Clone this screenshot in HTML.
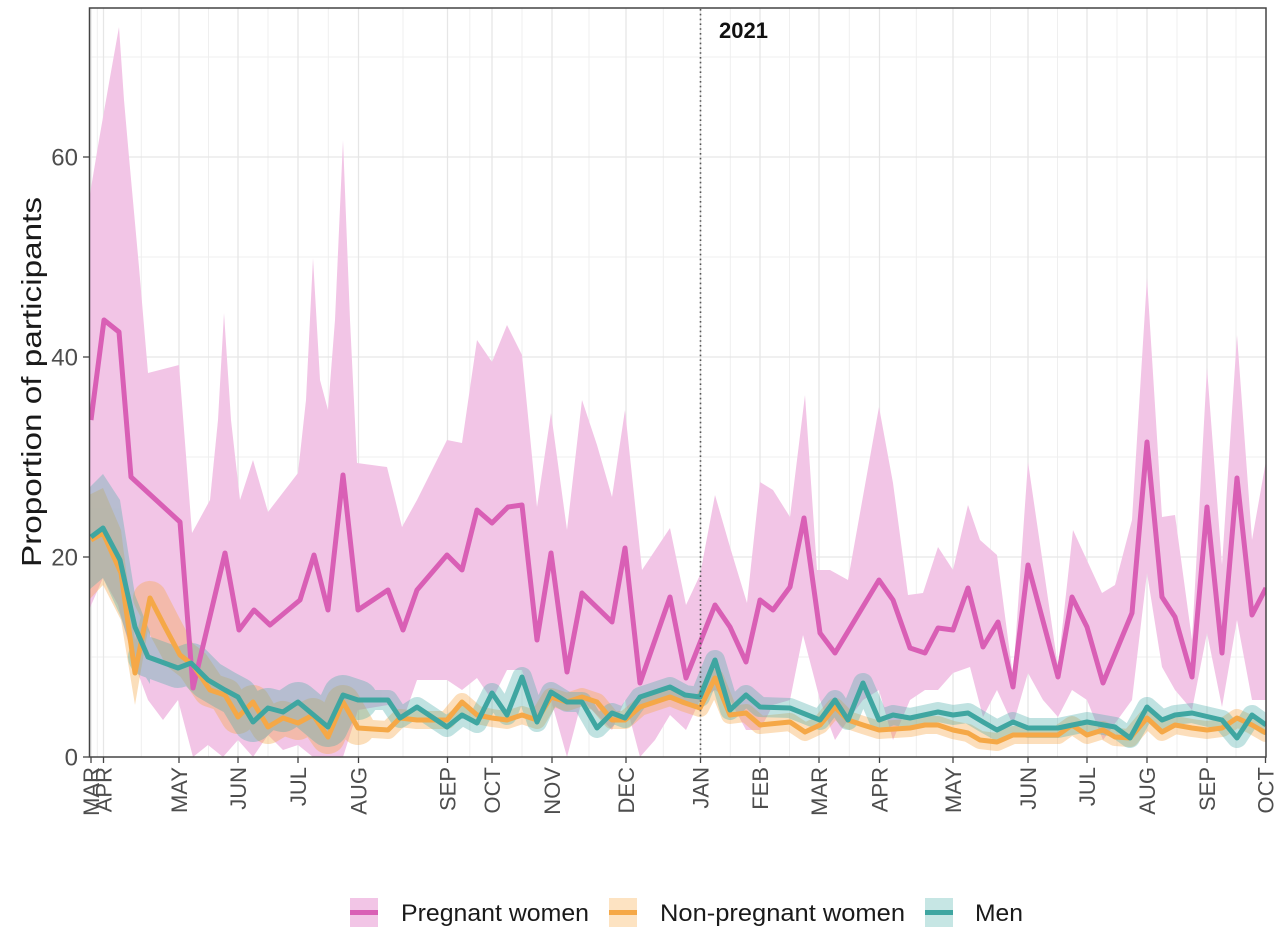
<!DOCTYPE html>
<html><head><meta charset="utf-8"><style>
html,body{margin:0;padding:0;background:#fff;}
svg{display:block;}
text{font-family:"Liberation Sans",sans-serif;}
</style></head><body>
<svg width="1280" height="937" viewBox="0 0 1280 937" xmlns="http://www.w3.org/2000/svg">
<defs><clipPath id="pc"><rect x="89" y="8" width="1177" height="749"/></clipPath></defs>
<rect x="0" y="0" width="1280" height="937" fill="#fff"/>
<!-- minor gridlines -->
<g stroke="#efefef" stroke-width="1">
<line x1="89" x2="1266" y1="57" y2="57"/><line x1="89" x2="1266" y1="257" y2="257"/><line x1="89" x2="1266" y1="457" y2="457"/><line x1="89" x2="1266" y1="657" y2="657"/>
<line x1="97.3" x2="97.3" y1="8" y2="757"/><line x1="141.3" x2="141.3" y1="8" y2="757"/><line x1="208.5" x2="208.5" y1="8" y2="757"/><line x1="268" x2="268" y1="8" y2="757"/><line x1="328.3" x2="328.3" y1="8" y2="757"/><line x1="403" x2="403" y1="8" y2="757"/><line x1="469.8" x2="469.8" y1="8" y2="757"/><line x1="522" x2="522" y1="8" y2="757"/><line x1="589" x2="589" y1="8" y2="757"/><line x1="663.3" x2="663.3" y1="8" y2="757"/><line x1="730.3" x2="730.3" y1="8" y2="757"/><line x1="789.5" x2="789.5" y1="8" y2="757"/><line x1="849.3" x2="849.3" y1="8" y2="757"/><line x1="916.3" x2="916.3" y1="8" y2="757"/><line x1="990.5" x2="990.5" y1="8" y2="757"/><line x1="1057.5" x2="1057.5" y1="8" y2="757"/><line x1="1117" x2="1117" y1="8" y2="757"/><line x1="1177" x2="1177" y1="8" y2="757"/><line x1="1236" x2="1236" y1="8" y2="757"/>
</g>
<!-- major gridlines -->
<g stroke="#e6e6e6" stroke-width="1.3">
<line x1="89" x2="1266" y1="157" y2="157"/><line x1="89" x2="1266" y1="357" y2="357"/><line x1="89" x2="1266" y1="557" y2="557"/>
<line x1="91" x2="91" y1="8" y2="757"/><line x1="103.5" x2="103.5" y1="8" y2="757"/><line x1="179" x2="179" y1="8" y2="757"/><line x1="238" x2="238" y1="8" y2="757"/><line x1="298" x2="298" y1="8" y2="757"/><line x1="358.5" x2="358.5" y1="8" y2="757"/><line x1="447.5" x2="447.5" y1="8" y2="757"/><line x1="492" x2="492" y1="8" y2="757"/><line x1="552" x2="552" y1="8" y2="757"/><line x1="626" x2="626" y1="8" y2="757"/><line x1="700.5" x2="700.5" y1="8" y2="757"/><line x1="760" x2="760" y1="8" y2="757"/><line x1="819" x2="819" y1="8" y2="757"/><line x1="879.5" x2="879.5" y1="8" y2="757"/><line x1="953" x2="953" y1="8" y2="757"/><line x1="1028" x2="1028" y1="8" y2="757"/><line x1="1087" x2="1087" y1="8" y2="757"/><line x1="1147" x2="1147" y1="8" y2="757"/><line x1="1207" x2="1207" y1="8" y2="757"/>
</g>

<g clip-path="url(#pc)">
<!-- pink ribbon -->
<polygon fill="#f2c5e6" points="89,200 99,140 109,83 119,27 124,100 129,157 139,267 148,373 179,365 192,533 210,500 218,420 224,313 231,420 240,500 253,460 268,512 298,473 306,400 313,258 320,380 328,410 335,320 343,140 350,320 357,463 387,467 402,527 417,500 432,470 447,440 462,443 477,340 492,362 507,325 522,355 537,507 551,413 567,530 582,400 597,445 612,497 625,410 642,570 670,528 686,605 700,575 715,495 730,547 747,603 760,482 773,490 790,517 805,395 817,570 830,570 848,580 879,407 893,483 908,595 923,593 938,547 953,570 968,505 980,540 997,555 1013,677 1028,462 1058,667 1073,530 1102,593 1115,585 1132,520 1147,278 1162,517 1175,515 1192,640 1207,368 1222,565 1237,335 1252,540 1267,455 1267,700 1252,700 1237,620 1222,707 1207,633 1192,710 1175,690 1162,667 1147,573 1132,700 1103,740 1087,700 1072,690 1058,717 1043,700 1028,673 1013,725 997,690 983,717 970,667 953,673 938,690 925,690 910,700 893,740 879,690 863,700 848,720 835,740 820,700 803,635 790,700 773,705 760,730 746,730 730,700 715,690 700,700 686,730 670,715 655,740 640,757 625,700 612,730 597,715 582,700 567,757 551,700 537,720 522,670 507,670 492,700 477,678 462,690 447,680 417,680 403,720 388,705 358,710 343,757 313,757 298,745 283,750 268,735 253,757 238,740 223,757 208,745 193,757 178,700 163,720 148,700 133,660 118,605 103,578 89,610"/>
<!-- orange ribbon -->
<g opacity="0.38" fill="none" stroke="#f6a94c" stroke-linejoin="round" stroke-linecap="round">
<polygon fill="#f6a94c" stroke="none" points="89,495 103,488 121,530 135,640 150,580 150,618 135,705 121,620 103,585 89,600"/>
<polyline stroke-width="34" points="150,598 165,627 180,655 193,665 210,690 225,695 238,717 253,702 268,727 283,718 298,723 313,715 328,737 343,702 358,728"/>
<polyline stroke-width="18" points="343,702 358,728 388,730 400,718 417,720 447,720 462,702 477,715 492,718 507,720 522,715 537,720 551,697 567,702 582,697 597,702 612,720 625,720 640,707 670,697 685,703 700,708 715,678 730,715 746,713 760,725 790,722 805,732 820,725 835,707 848,720 863,725 879,730 910,728 925,725 938,725 953,730 968,733 980,740 997,742 1013,735 1058,735 1072,725 1087,735 1103,730 1115,737 1130,738 1147,718 1162,732 1175,725 1192,728 1207,730 1222,728 1237,718 1252,725 1266,733"/>
</g>
<!-- teal ribbon -->
<g opacity="0.36" fill="none" stroke="#4fb0ac" stroke-linejoin="round" stroke-linecap="round">
<polygon fill="#4fb0ac" stroke="none" points="89,488 103,474 120,500 135,595 150,632 150,684 135,660 120,615 103,578 89,590"/>
<polyline stroke-width="40" points="148,657 178,668 191,663 208,680 225,690 238,697 253,722 268,708 283,712 298,702 328,727 343,695 358,700"/>
<polyline stroke-width="20" points="343,695 358,700 388,700 400,718 417,707 447,727 462,715 477,723 492,693 507,715 522,677 537,722 551,692 567,702 582,702 597,728 612,713 625,718 640,697 670,687 685,695 700,697 715,660 730,710 746,695 760,707 790,708 820,720 835,700 848,720 863,683 879,720 893,715 910,718 938,712 953,715 968,713 983,722 997,730 1013,722 1028,728 1058,728 1087,722 1115,727 1130,738 1147,707 1162,720 1175,715 1192,713 1222,720 1237,738 1252,715 1266,725"/>
</g>
<!-- lines -->
<polyline fill="none" stroke="#d95fb5" stroke-width="5" stroke-linejoin="round" points="91,420 104,320 119,332 131,477 180,522 193,688 225,553 239,630 254,610 270,625 300,600 314,555 328,610 343,475 358,610 388,590 403,630 417,590 447,555 462,570 477,510 492,523 508,507 522,505 537,640 551,553 567,672 582,593 612,622 625,548 640,683 670,597 686,678 715,605 730,627 746,662 760,600 773,610 790,587 804,518 820,633 835,653 879,580 893,600 910,648 925,653 938,628 953,630 968,588 983,647 998,622 1013,687 1028,565 1058,677 1072,597 1087,627 1103,683 1132,613 1147,442 1162,597 1175,617 1192,677 1207,507 1222,653 1237,478 1252,615 1266,588"/>
<polyline fill="none" stroke="#f5a847" stroke-width="5" stroke-linejoin="round" points="91,540 103,533 121,573 135,673 150,598 165,627 180,655 193,665 210,690 225,695 238,717 253,702 268,727 283,718 298,723 313,715 328,737 343,702 358,728 388,730 400,718 417,720 447,720 462,702 477,715 492,718 507,720 522,715 537,720 551,697 567,702 582,697 597,702 612,720 625,720 640,707 670,697 685,703 700,708 715,678 730,715 746,713 760,725 790,722 805,732 820,725 835,707 848,720 863,725 879,730 910,728 925,725 938,725 953,730 968,733 980,740 997,742 1013,735 1058,735 1072,725 1087,735 1103,730 1115,737 1130,738 1147,718 1162,732 1175,725 1192,728 1207,730 1222,728 1237,718 1252,725 1266,733"/>
<polyline fill="none" stroke="#3fa6a1" stroke-width="5" stroke-linejoin="round" points="91,537 103,528 120,560 135,627 148,657 178,668 191,663 208,680 225,690 238,697 253,722 268,708 283,712 298,702 328,727 343,695 358,700 388,700 400,718 417,707 447,727 462,715 477,723 492,693 507,715 522,677 537,722 551,692 567,702 582,702 597,728 612,713 625,718 640,697 670,687 685,695 700,697 715,660 730,710 746,695 760,707 790,708 820,720 835,700 848,720 863,683 879,720 893,715 910,718 938,712 953,715 968,713 983,722 997,730 1013,722 1028,728 1058,728 1087,722 1115,727 1130,738 1147,707 1162,720 1175,715 1192,713 1222,720 1237,738 1252,715 1266,725"/>
</g>
<!-- 2021 dotted line -->
<line x1="700.5" x2="700.5" y1="9" y2="757" stroke="#555" stroke-width="1.6" stroke-dasharray="1.6,3.2"/>
<text x="719" y="38" font-size="22" font-weight="bold" fill="#111">2021</text>
<!-- panel border -->
<rect x="89.5" y="8" width="1176.5" height="749" fill="none" stroke="#444" stroke-width="1.5"/>
<!-- y ticks -->
<g stroke="#444" stroke-width="1.3">
<line x1="83" x2="89" y1="757" y2="757"/><line x1="83" x2="89" y1="557" y2="557"/><line x1="83" x2="89" y1="357" y2="357"/><line x1="83" x2="89" y1="157" y2="157"/>
</g>
<g font-size="24" fill="#4d4d4d" text-anchor="end">
<text x="78" y="765.5">0</text><text x="78" y="565.5">20</text><text x="78" y="365.5">40</text><text x="78" y="165.5">60</text>
</g>
<!-- x ticks -->
<g stroke="#444" stroke-width="1.3">
<line x1="91" x2="91" y1="757" y2="763"/><line x1="103.5" x2="103.5" y1="757" y2="763"/><line x1="179" x2="179" y1="757" y2="763"/><line x1="238" x2="238" y1="757" y2="763"/><line x1="298" x2="298" y1="757" y2="763"/><line x1="358.5" x2="358.5" y1="757" y2="763"/><line x1="447.5" x2="447.5" y1="757" y2="763"/><line x1="492" x2="492" y1="757" y2="763"/><line x1="552" x2="552" y1="757" y2="763"/><line x1="626" x2="626" y1="757" y2="763"/><line x1="700.5" x2="700.5" y1="757" y2="763"/><line x1="760" x2="760" y1="757" y2="763"/><line x1="819" x2="819" y1="757" y2="763"/><line x1="879.5" x2="879.5" y1="757" y2="763"/><line x1="953" x2="953" y1="757" y2="763"/><line x1="1028" x2="1028" y1="757" y2="763"/><line x1="1087" x2="1087" y1="757" y2="763"/><line x1="1147" x2="1147" y1="757" y2="763"/><line x1="1207" x2="1207" y1="757" y2="763"/><line x1="1265.5" x2="1265.5" y1="757" y2="763"/>
</g>
<g font-size="22" fill="#4d4d4d" text-anchor="end">
<text transform="translate(99,767) rotate(-90)">MAR</text>
<text transform="translate(111.5,767) rotate(-90)">APR</text>
<text transform="translate(187,767) rotate(-90)">MAY</text>
<text transform="translate(246,767) rotate(-90)">JUN</text>
<text transform="translate(306,767) rotate(-90)">JUL</text>
<text transform="translate(366.5,767) rotate(-90)">AUG</text>
<text transform="translate(455.5,767) rotate(-90)">SEP</text>
<text transform="translate(500,767) rotate(-90)">OCT</text>
<text transform="translate(560,767) rotate(-90)">NOV</text>
<text transform="translate(634,767) rotate(-90)">DEC</text>
<text transform="translate(708.5,767) rotate(-90)">JAN</text>
<text transform="translate(768,767) rotate(-90)">FEB</text>
<text transform="translate(827,767) rotate(-90)">MAR</text>
<text transform="translate(887.5,767) rotate(-90)">APR</text>
<text transform="translate(961,767) rotate(-90)">MAY</text>
<text transform="translate(1036,767) rotate(-90)">JUN</text>
<text transform="translate(1095,767) rotate(-90)">JUL</text>
<text transform="translate(1155,767) rotate(-90)">AUG</text>
<text transform="translate(1215,767) rotate(-90)">SEP</text>
<text transform="translate(1273.5,767) rotate(-90)">OCT</text>
</g>
<!-- y title -->
<text transform="translate(41,382) rotate(-90)" font-size="28" fill="#1a1a1a" text-anchor="middle" textLength="370" lengthAdjust="spacingAndGlyphs">Proportion of participants</text>
<!-- legend -->
<rect x="350" y="898" width="28" height="29" fill="#f2c5e6"/>
<line x1="350" x2="378" y1="912.5" y2="912.5" stroke="#d95fb5" stroke-width="5"/>
<text x="401" y="921" font-size="24" fill="#1a1a1a" textLength="188" lengthAdjust="spacingAndGlyphs">Pregnant women</text>
<rect x="609" y="898" width="28" height="29" fill="#fde3c2"/>
<line x1="609" x2="637" y1="912.5" y2="912.5" stroke="#f5a847" stroke-width="5"/>
<text x="660" y="921" font-size="24" fill="#1a1a1a" textLength="245" lengthAdjust="spacingAndGlyphs">Non-pregnant women</text>
<rect x="925" y="898" width="28" height="29" fill="#c6e6e4"/>
<line x1="925" x2="953" y1="912.5" y2="912.5" stroke="#3fa6a1" stroke-width="5"/>
<text x="975" y="921" font-size="24" fill="#1a1a1a" textLength="48" lengthAdjust="spacingAndGlyphs">Men</text>
</svg>
</body></html>
